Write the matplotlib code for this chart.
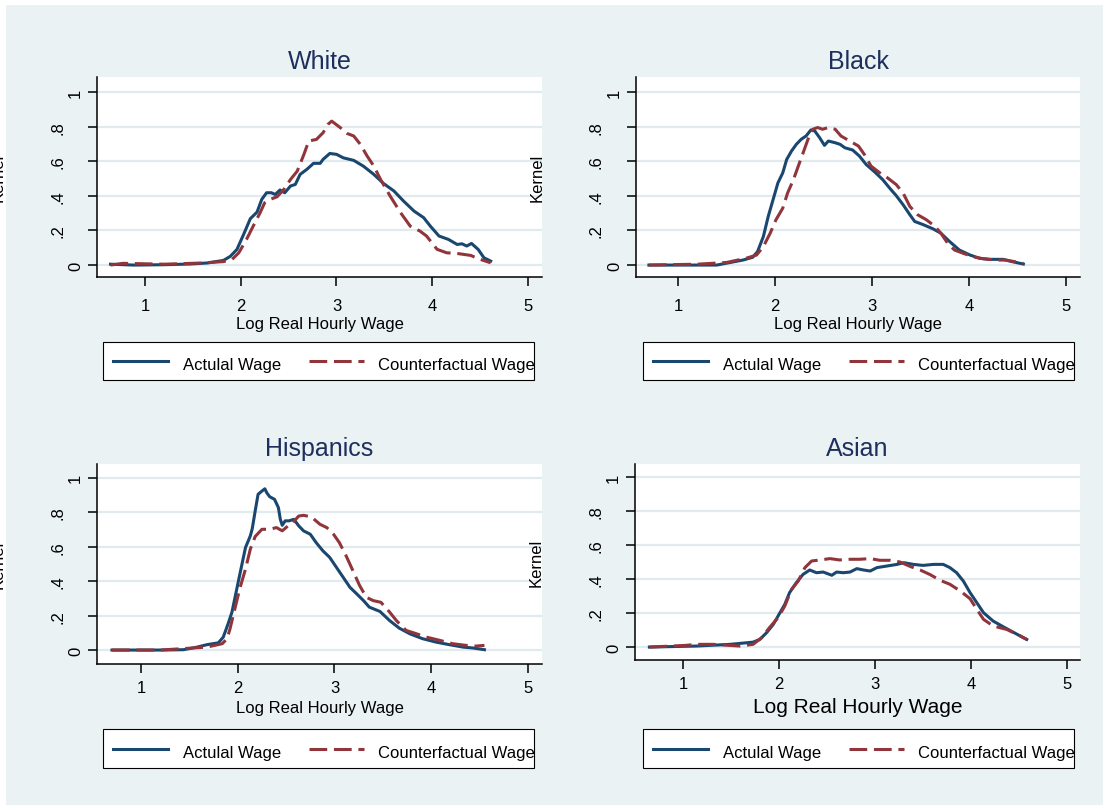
import matplotlib
matplotlib.use("Agg")
import matplotlib.pyplot as plt
from matplotlib.lines import Line2D
from matplotlib.patches import Rectangle
from matplotlib import transforms

plt.rcParams['font.family'] = ['Liberation Sans', 'DejaVu Sans']

# ---------------------------------------------------------------- data
white_actual_x = [0.64, 0.88, 1.20, 1.47, 1.65, 1.82, 1.89, 1.96, 2.03, 2.10, 2.17, 2.22, 2.27, 2.32, 2.36,
                  2.41, 2.46, 2.52, 2.57, 2.62, 2.69, 2.76, 2.83, 2.86, 2.93, 3.00, 3.07, 3.18, 3.28, 3.39,
                  3.49, 3.60, 3.70, 3.81, 3.91, 3.98, 4.07, 4.17, 4.26, 4.31, 4.36, 4.41, 4.48, 4.54, 4.61]
white_actual_y = [0.005, 0.0, 0.002, 0.006, 0.012, 0.027, 0.05, 0.09, 0.177, 0.268, 0.306, 0.38, 0.418, 0.418, 0.408,
                  0.434, 0.418, 0.457, 0.466, 0.524, 0.553, 0.588, 0.588, 0.611, 0.645, 0.640, 0.620, 0.605, 0.572, 0.524,
                  0.472, 0.428, 0.370, 0.312, 0.274, 0.225, 0.168, 0.148, 0.119, 0.123, 0.110, 0.125, 0.09, 0.042, 0.023]
white_cf_x = [0.64, 0.77, 1.20, 1.60, 1.82, 1.91, 1.98, 2.06, 2.13, 2.20, 2.25, 2.31, 2.38, 2.45, 2.52,
              2.59, 2.66, 2.71, 2.79, 2.86, 2.91, 2.95, 3.04, 3.11, 3.18, 3.25, 3.32, 3.39, 3.46, 3.56,
              3.67, 3.77, 3.87, 3.94, 4.05, 4.15, 4.26, 4.40, 4.50, 4.61]
white_cf_y = [0.0, 0.01, 0.005, 0.012, 0.02, 0.033, 0.071, 0.148, 0.225, 0.30, 0.36, 0.38, 0.395, 0.437, 0.495,
              0.543, 0.640, 0.717, 0.726, 0.765, 0.813, 0.832, 0.794, 0.761, 0.746, 0.697, 0.630, 0.572, 0.495, 0.399,
              0.302, 0.225, 0.197, 0.168, 0.091, 0.071, 0.067, 0.056, 0.033, 0.013]

black_actual_x = [0.70, 1.20, 1.40, 1.53, 1.67, 1.77, 1.82, 1.88, 1.93, 1.98, 2.03, 2.08, 2.12, 2.17, 2.22,
                  2.27, 2.32, 2.37, 2.41, 2.46, 2.51, 2.55, 2.62, 2.67, 2.72, 2.80, 2.87, 2.94, 3.03, 3.11,
                  3.18, 3.25, 3.32, 3.39, 3.44, 3.53, 3.63, 3.71, 3.80, 3.90, 4.01, 4.11, 4.21, 4.35, 4.45, 4.56]
black_actual_y = [0.0, 0.0, 0.0, 0.014, 0.029, 0.045, 0.078, 0.165, 0.281, 0.378, 0.475, 0.533, 0.610, 0.659, 0.698,
                  0.727, 0.746, 0.781, 0.775, 0.736, 0.692, 0.717, 0.707, 0.698, 0.678, 0.665, 0.630, 0.581, 0.537, 0.494,
                  0.446, 0.401, 0.349, 0.291, 0.252, 0.233, 0.209, 0.184, 0.136, 0.087, 0.058, 0.039, 0.033, 0.033, 0.019, 0.006]
black_cf_x = [0.70, 1.20, 1.50, 1.70, 1.81, 1.88, 1.95, 2.01, 2.08, 2.13, 2.19, 2.24, 2.29, 2.34, 2.39,
              2.44, 2.49, 2.55, 2.62, 2.68, 2.77, 2.86, 2.92, 2.99, 3.08, 3.16, 3.25, 3.32, 3.39, 3.47,
              3.56, 3.65, 3.71, 3.78, 3.85, 3.94, 4.04, 4.14, 4.28, 4.38, 4.56]
black_cf_y = [0.0, 0.005, 0.015, 0.039, 0.058, 0.107, 0.184, 0.262, 0.329, 0.417, 0.494, 0.572, 0.649, 0.727, 0.785,
              0.795, 0.785, 0.795, 0.785, 0.746, 0.717, 0.688, 0.640, 0.572, 0.533, 0.504, 0.465, 0.417, 0.339, 0.291,
              0.262, 0.223, 0.184, 0.126, 0.087, 0.068, 0.048, 0.037, 0.029, 0.029, 0.010]

hisp_actual_x = [0.70, 1.20, 1.44, 1.58, 1.68, 1.80, 1.85, 1.90, 1.94, 1.99, 2.04, 2.08, 2.13, 2.15, 2.18,
                 2.21, 2.25, 2.28, 2.30, 2.33, 2.38, 2.42, 2.44, 2.46, 2.49, 2.53, 2.58, 2.63, 2.68, 2.75,
                 2.81, 2.88, 2.95, 3.02, 3.09, 3.16, 3.23, 3.30, 3.36, 3.47, 3.57, 3.67, 3.78, 3.91, 4.05,
                 4.19, 4.33, 4.43, 4.55]
hisp_actual_y = [0.0, 0.0, 0.002, 0.017, 0.031, 0.042, 0.075, 0.152, 0.220, 0.355, 0.489, 0.595, 0.663, 0.705, 0.807,
                 0.904, 0.923, 0.936, 0.913, 0.890, 0.875, 0.827, 0.759, 0.724, 0.750, 0.750, 0.759, 0.721, 0.692, 0.672,
                 0.624, 0.576, 0.538, 0.480, 0.422, 0.364, 0.326, 0.287, 0.249, 0.224, 0.171, 0.127, 0.094, 0.066, 0.046,
                 0.031, 0.017, 0.012, 0.002]
hisp_cf_x = [0.70, 1.20, 1.68, 1.84, 1.89, 1.92, 1.97, 2.02, 2.08, 2.13, 2.18, 2.25, 2.33, 2.40, 2.46,
             2.52, 2.57, 2.63, 2.68, 2.76, 2.85, 2.92, 2.99, 3.05, 3.12, 3.19, 3.26, 3.33, 3.40, 3.48,
             3.57, 3.64, 3.74, 3.85, 3.95, 4.09, 4.22, 4.36, 4.46, 4.55]
hisp_cf_y = [0.0, 0.0, 0.017, 0.037, 0.066, 0.123, 0.239, 0.355, 0.470, 0.586, 0.659, 0.701, 0.701, 0.711, 0.692,
             0.721, 0.740, 0.778, 0.782, 0.773, 0.730, 0.711, 0.672, 0.624, 0.547, 0.461, 0.374, 0.306, 0.287, 0.277,
             0.220, 0.171, 0.114, 0.094, 0.075, 0.056, 0.037, 0.027, 0.023, 0.027]

asian_actual_x = [0.65, 1.14, 1.49, 1.73, 1.80, 1.87, 1.94, 2.01, 2.06, 2.11, 2.18, 2.25, 2.32, 2.39, 2.46,
                  2.55, 2.60, 2.67, 2.74, 2.81, 2.88, 2.95, 3.02, 3.12, 3.23, 3.30, 3.40, 3.50, 3.61, 3.71,
                  3.78, 3.85, 3.92, 3.99, 4.06, 4.13, 4.23, 4.34, 4.48, 4.58]
asian_actual_y = [0.0, 0.006, 0.016, 0.029, 0.045, 0.084, 0.133, 0.202, 0.251, 0.320, 0.378, 0.427, 0.453, 0.437, 0.441,
                  0.422, 0.441, 0.437, 0.441, 0.461, 0.453, 0.447, 0.467, 0.476, 0.486, 0.496, 0.486, 0.480, 0.486, 0.486,
                  0.467, 0.437, 0.388, 0.320, 0.261, 0.202, 0.153, 0.118, 0.075, 0.045]
asian_cf_x = [0.65, 1.03, 1.14, 1.31, 1.59, 1.73, 1.82, 1.90, 1.99, 2.06, 2.13, 2.20, 2.27, 2.34, 2.43,
              2.53, 2.63, 2.74, 2.84, 2.95, 3.05, 3.16, 3.26, 3.37, 3.47, 3.57, 3.68, 3.78, 3.89, 3.99,
              4.06, 4.13, 4.23, 4.37, 4.48, 4.58]
asian_cf_y = [0.0, 0.010, 0.016, 0.016, 0.006, 0.016, 0.055, 0.114, 0.173, 0.241, 0.339, 0.388, 0.467, 0.506, 0.512,
              0.520, 0.512, 0.516, 0.516, 0.520, 0.510, 0.510, 0.500, 0.473, 0.453, 0.427, 0.392, 0.369, 0.329, 0.284,
              0.222, 0.163, 0.124, 0.104, 0.075, 0.045]

panel_titles = ["White", "Black", "Hispanics", "Asian"]
series_labels = ["Actulal Wage", "Counterfactual Wage"]
x_ticks = [1, 2, 3, 4, 5]
y_ticks = [0, 0.2, 0.4, 0.6, 0.8, 1.0]
y_tick_labels = ["0", ".2", ".4", ".6", ".8", "1"]
x_title = "Log Real Hourly Wage"
y_title = "Kernel"

# ---------------------------------------------------------------- styling
W, H = 1109, 812
BG = '#EAF2F3'
GRID = '#E1EBED'
NAVY = '#1A476F'
MAROON = '#90353B'
TITLE_C = '#1E2F5E'
LW = 2.2
DASH = (5.8, 2.2)

fig = plt.figure(figsize=(W / 100, H / 100), dpi=100, facecolor='white')


def fx(px):
    return px / W


def fy(py):
    return 1 - py / H


fig.patches.append(Rectangle((fx(6), fy(806)), fx(1103) - fx(6), fy(6) - fy(806),
                             transform=fig.transFigure, facecolor=BG, edgecolor='none', zorder=-10))

panels = [
    dict(title=panel_titles[0], ax=(white_actual_x, white_actual_y), cf=(white_cf_x, white_cf_y),
         box=(97, 78, 542, 278), xlim=(0.499, 5.146), ylim=(-0.069, 1.087),
         xlab_size=12, tick_pad=8.5, lab_pad=2.5, legend=(103, 343, 534, 381)),
    dict(title=panel_titles[1], ax=(black_actual_x, black_actual_y), cf=(black_cf_x, black_cf_y),
         box=(636, 78, 1080, 278), xlim=(0.567, 5.144), ylim=(-0.069, 1.087),
         xlab_size=12, tick_pad=8.5, lab_pad=2.5, legend=(643, 343, 1074, 381)),
    dict(title=panel_titles[2], ax=(hisp_actual_x, hisp_actual_y), cf=(hisp_cf_x, hisp_cf_y),
         box=(97, 465, 542, 665), xlim=(0.545, 5.145), ylim=(-0.081, 1.08),
         xlab_size=12, tick_pad=5.0, lab_pad=3.5, legend=(103, 730, 534, 769)),
    dict(title=panel_titles[3], ax=(asian_actual_x, asian_actual_y), cf=(asian_cf_x, asian_cf_y),
         box=(635, 465, 1080, 661), xlim=(0.5, 5.135), ylim=(-0.076, 1.076),
         xlab_size=15, tick_pad=5.0, lab_pad=4.5, legend=(643, 730, 1074, 769)),
]

for p in panels:
    l, t, r, b = p['box']
    ax = fig.add_axes([fx(l), fy(b), fx(r) - fx(l), fy(t) - fy(b)])
    ax.set_facecolor('white')
    ax.plot(*p['ax'], color=NAVY, lw=LW, solid_joinstyle='round', zorder=3)
    ax.plot(*p['cf'], color=MAROON, lw=LW, dashes=DASH, zorder=4)
    ax.set_xlim(*p['xlim'])
    ax.set_ylim(*p['ylim'])

    for side in ('top', 'right'):
        ax.spines[side].set_visible(False)
    for side in ('left', 'bottom'):
        ax.spines[side].set_linewidth(1.1)
        ax.spines[side].set_color('black')

    ax.set_xticks(x_ticks)
    ax.set_yticks(y_ticks)
    ax.tick_params(axis='both', length=6.5, width=1.1, direction='out', color='black')
    ax.tick_params(axis='x', labelsize=12, pad=p['tick_pad'])
    ax.tick_params(axis='y', labelleft=False)
    ax.yaxis.grid(True, color=GRID, lw=1.6)
    ax.set_axisbelow(True)

    # vertical y tick labels; one-character labels sit closer to the axis
    for v, lab in zip(y_ticks, y_tick_labels):
        off = 17 if len(lab) == 1 else 35
        tr = transforms.offset_copy(ax.get_yaxis_transform(), fig=fig, x=-off, y=0, units='dots')
        ax.text(0, v, lab, transform=tr, rotation=90, rotation_mode='anchor',
                ha='center', va='baseline', fontsize=12, clip_on=False)

    ax.set_title(p['title'], fontsize=18, color=TITLE_C, pad=6.3)
    ax.set_xlabel(x_title, fontsize=p['xlab_size'], labelpad=p['lab_pad'])

    fig.text(fx(l - 99), fy((t + b) / 2), y_title, rotation=90, ha='center', va='center',
             fontsize=12, zorder=5)

    # legend box below the panel
    ll, lt, lr, lb = p['legend']
    fig.patches.append(Rectangle((fx(ll), fy(lb)), fx(lr) - fx(ll), fy(lt) - fy(lb),
                                 transform=fig.transFigure, facecolor='white',
                                 edgecolor='black', lw=0.8, zorder=1))
    yc = fy((lt + lb) / 2)
    base = fy(lb - 11)
    fig.add_artist(Line2D([fx(ll + 10), fx(ll + 65)], [yc, yc], color=NAVY, lw=LW,
                          transform=fig.transFigure, zorder=2))
    fig.add_artist(Line2D([fx(ll + 206), fx(ll + 261)], [yc, yc], color=MAROON, lw=LW,
                          dashes=DASH, transform=fig.transFigure, zorder=2))
    fig.text(fx(ll + 80), base, series_labels[0], fontsize=12, va='baseline', ha='left', zorder=3)
    fig.text(fx(ll + 275), base, series_labels[1], fontsize=12, va='baseline', ha='left', zorder=3)

fig.savefig('out.png', dpi=100)
